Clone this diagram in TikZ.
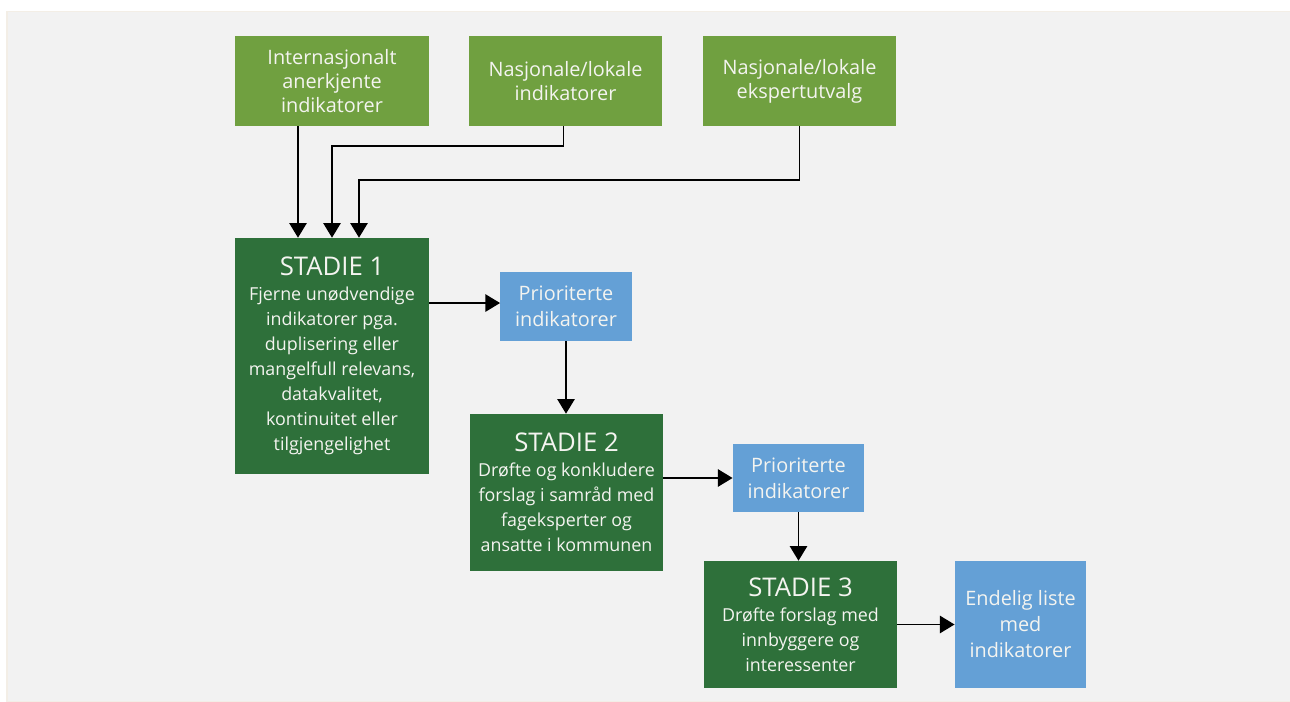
\documentclass[tikz,border=0pt]{standalone}
\usepackage{fontspec}
\setmainfont{Open Sans}
\usetikzlibrary{arrows.meta}
\definecolor{bgc}{HTML}{F2F2F2}
\definecolor{bgedge}{HTML}{F3EEE6}
\definecolor{lgreen}{HTML}{70A040}
\definecolor{dgreen}{HTML}{2E703A}
\definecolor{lblue}{HTML}{64A0D6}
\definecolor{txt}{HTML}{F4F4F0}
\tikzset{
  box/.style={rectangle, inner sep=0pt, align=center, text=txt},
  srcbox/.style={box, fill=lgreen, minimum width=145pt, minimum height=67.5pt, font=\fontsize{14.9}{17.8}\selectfont},
  stagebox/.style={box, fill=dgreen, minimum width=145pt, font=\fontsize{13.4}{18.75}\selectfont},
  resbox/.style={box, fill=lblue, minimum width=98.5pt, font=\fontsize{14.9}{19.5}\selectfont},
  arr/.style={draw=black, line width=1.2pt, -{Triangle[width=13pt,length=11pt]}},
}
\newcommand{\stagetitle}[1]{{\fontsize{19.3}{21}\selectfont #1}}
\begin{document}
\begin{tikzpicture}[x=0.75pt,y=-0.75pt]
\useasboundingbox (0,0) rectangle (1290,702);
\fill[bgedge] (6,11) rectangle (1290,702);
\fill[bgc] (8,12) rectangle (1290,701);
\node[srcbox] (top1) at (332,81) {Internasjonalt\\anerkjente\\indikatorer};
\node[srcbox] (top2) at (565.5,81) {Nasjonale/lokale\\indikatorer};
\node[srcbox] (top3) at (799.5,81) {Nasjonale/lokale\\ekspertutvalg};
\node[stagebox, minimum height=177pt] (s1) at (332,356) {\stagetitle{STADIE 1}\\Fjerne unødvendige\\indikatorer pga.\\duplisering eller\\mangelfull relevans,\\datakvalitet,\\kontinuitet eller\\tilgjengelighet};
\node[resbox, minimum height=51.75pt] (p1) at (566,306.5) {Prioriterte\\indikatorer};
\node[stagebox, minimum height=117.75pt] (s2) at (566.5,492.5) {\stagetitle{STADIE 2}\\Drøfte og konkludere\\forslag i samråd med\\fageksperter og\\ansatte i kommunen};
\node[resbox, minimum height=51pt] (p2) at (798.5,478) {Prioriterte\\indikatorer};
\node[stagebox, minimum height=95.25pt] (s3) at (800.5,624.5) {\stagetitle{STADIE 3}\\Drøfte forslag med\\innbyggere og\\interessenter};
\node[resbox, minimum height=95.25pt] (fin) at (1020.5,624.5) {Endelig liste\\med\\indikatorer};
\draw[arr] ([xshift=-25.5pt]top1.south) -- ([xshift=-25.5pt]s1.north);
\draw[arr] ([xshift=-1.5pt]top2.south) -- ++(0,20) -| (s1.north);
\draw[arr] (top3.south) -- ++(0,54) -| ([xshift=20.25pt]s1.north);
\draw[arr] ([yshift=2.6pt]s1.east |- p1.west) -- ([yshift=2.6pt]p1.west);
\draw[arr] (p1.south) -- (p1.south |- s2.north);
\draw[arr] (s2.east |- p2.west) -- (p2.west);
\draw[arr] (p2.south) -- (p2.south |- s3.north);
\draw[arr] (s3.east |- fin.west) -- (fin.west);
\end{tikzpicture}
\end{document}
